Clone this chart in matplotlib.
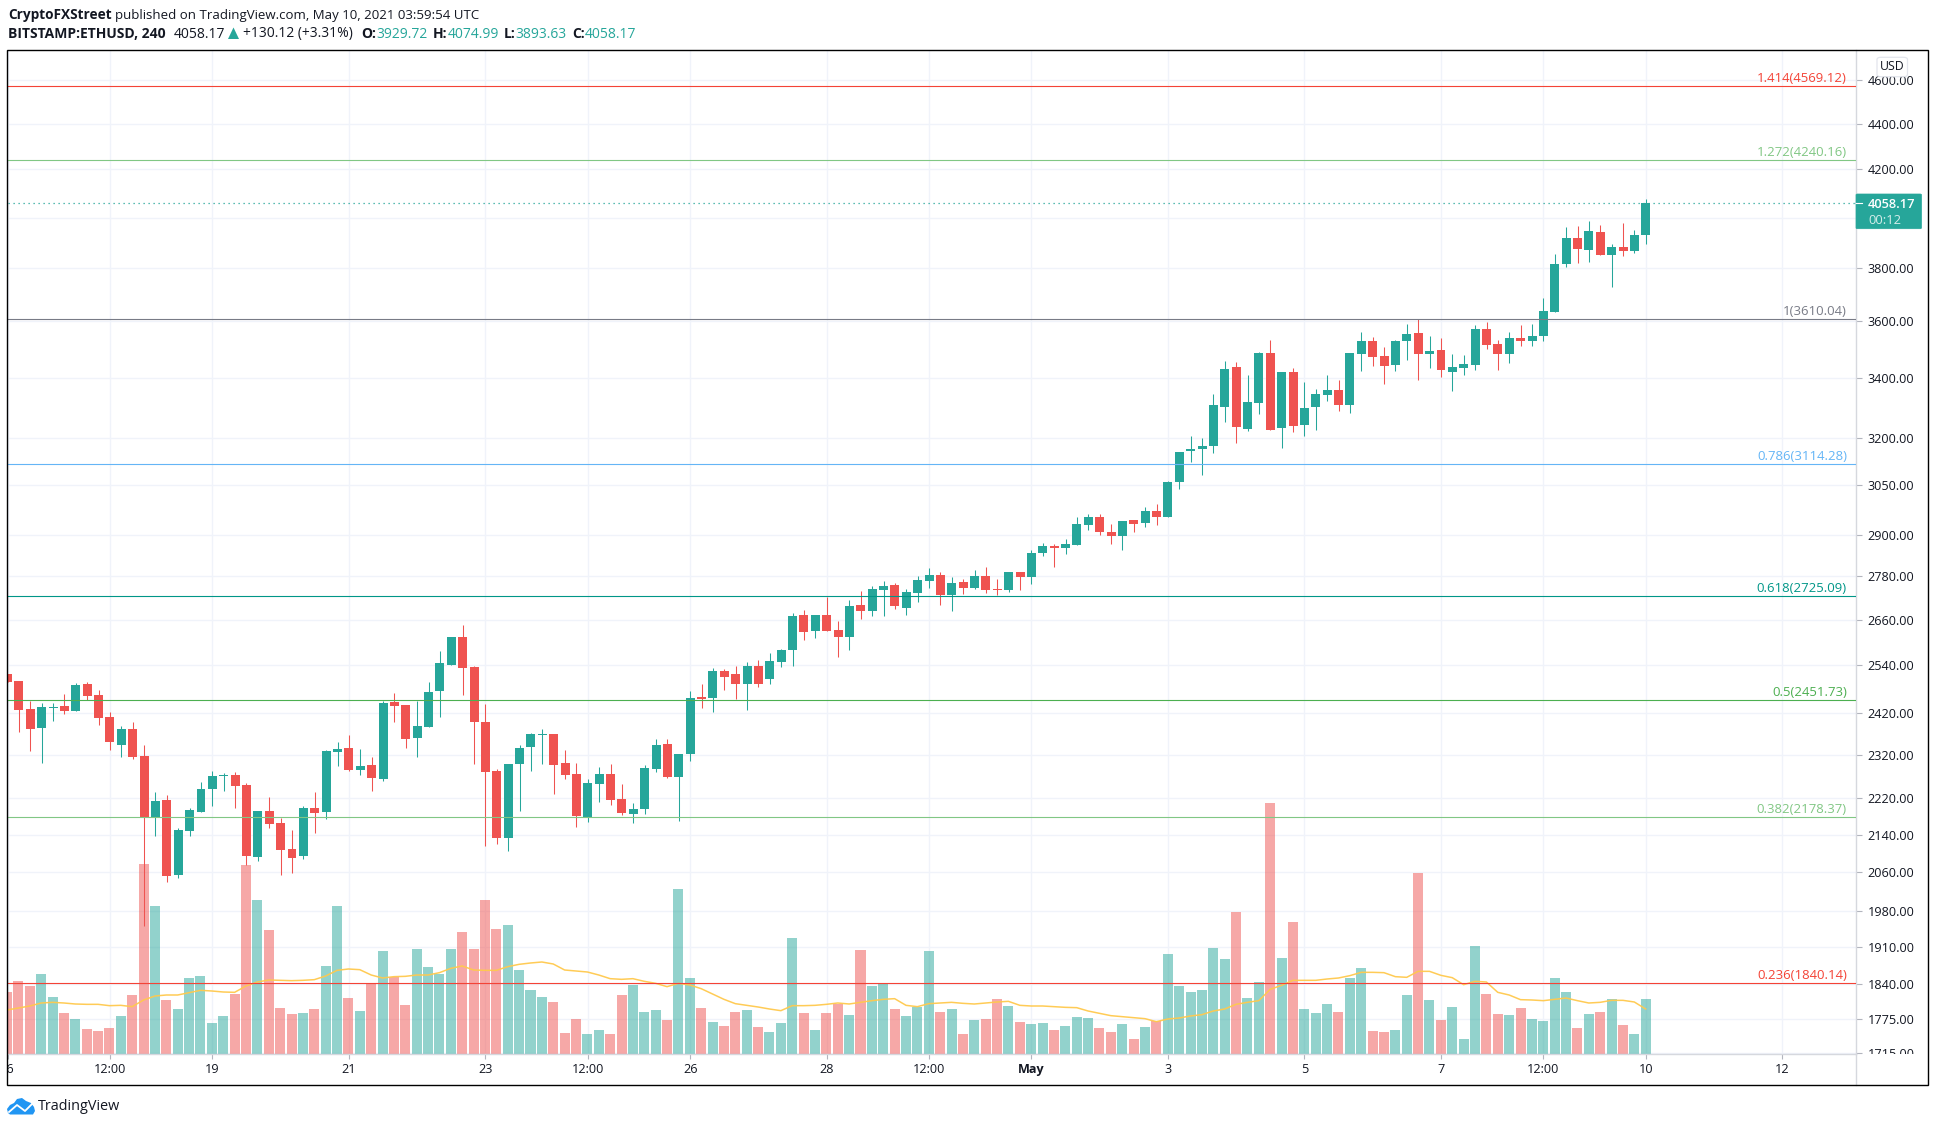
import matplotlib
matplotlib.use("Agg")
import matplotlib.pyplot as plt
from matplotlib.patches import Rectangle, Polygon, Circle, FancyBboxPatch
from matplotlib.lines import Line2D
from matplotlib.transforms import Bbox

plt.rcParams['font.family'] = ['Open Sans', 'DejaVu Sans']

# ---------- data (4h bars, index 0 = 16 Apr 00:00) ----------
opens = [2517,2499.5,2429.5,2383.1,2432,2436.9,2424.6,2491.8,2464.2,2409.9,
 2342.4,2380.7,2316.4,2177,2215.4,2053.3,2147,2188.7,2240.3,2270,
 2272.2,2249.3,2091,2190.9,2164.4,2108,2093,2197.5,2188.7,2326,
 2335.3,2283.8,2295.4,2263.1,2446.8,2439.3,2359,2385.6,2474.2,2540.3,
 2613.4,2535.1,2397.6,2281.4,2131.7,2297.7,2337.7,2366.3,2368.7,2300,
 2274.5,2177.7,2251.6,2274.5,2217.7,2184.2,2195.3,2286.1,2344.8,2267.6,
 2321.1,2459,2456.5,2524.7,2517,2491.6,2537.5,2504.3,2547.9,2579,
 2672.2,2629.2,2672.2,2631.9,2613.2,2699.4,2683,2740.8,2754.8,2691.2,
 2732.5,2766,2783,2727,2763.2,2746.4,2780,2743.6,2740.8,2791.3,
 2777,2845.5,2865.8,2860,2868.7,2927.5,2951.4,2906.8,2895,2942.4,
 2933.5,2969.4,2951.4,3058,3156.9,3163.2,3171.8,3299.7,3436.2,3226.9,
 3313.1,3485.4,3230.2,3418.9,3240,3299.7,3340,3357,3306.4,3481.9,
 3528,3474.9,3443.3,3528,3556.6,3481.9,3496,3418.9,3432.7,3443.3,
 3571.2,3517.4,3481.9,3538.8,3528,3546,3633.3,3814.5,3916.4,3869,
 3940.3,3849.4,3880.8,3865,3929.72]
highs = [2517,2499.5,2449.2,2444.3,2444.3,2466.7,2494.4,2497,2476.7,2422,
 2388,2397.6,2342.4,2233.5,2226.6,2153.5,2197.5,2256.3,2281.4,2276.8,
 2279.1,2254,2190.9,2222,2175.5,2149.1,2201.9,2233.5,2330.6,2349.6,
 2366.3,2333,2314,2449.2,2469,2439.3,2449.2,2497,2576.6,2613.4,
 2645.4,2537.7,2441.8,2286.1,2297.7,2342.4,2371,2380.7,2368.7,2330.6,
 2300,2263.1,2290.7,2297.7,2251.6,2208.7,2295.4,2356.7,2356.7,2321.1,
 2474.2,2494,2532.4,2529.8,2537.5,2547.9,2553,2571.2,2581.6,2677.6,
 2685.8,2672.2,2721.4,2656,2713.2,2738.1,2752,2766,2760.4,2743.6,
 2780,2802.6,2791.3,2777,2771.5,2797,2805.5,2771.5,2791.3,2791.3,
 2854.2,2874.5,2871.6,2886.2,2951.4,2960.4,2960.4,2930.5,2939.4,2942.4,
 2981.4,2990.5,3061,3152.4,3204,3197.6,3343.6,3457.2,3454,3408.5,
 3488.9,3531.6,3418.9,3432.7,3384.3,3360.4,3408.5,3391.2,3485.4,3560.4,
 3542.4,3506.7,3531.6,3589.4,3607.6,3546,3538.8,3481.9,3478.4,3585.6,
 3596.7,3531.6,3560.4,3585.6,3589.4,3685.3,3853.3,3960.4,3964.4,3984.5,
 3969.1,3892.7,3977.9,3948.3,4074.99]
lows = [2498,2373.5,2328.3,2300,2400,2417,2424.6,2451.7,2390.3,2330.6,
 2314,2309.3,1949.6,2136,2038.7,2047,2136,2188.7,2201.9,2235.7,
 2197.5,2074,2082.6,2153.5,2053.3,2057.4,2086.8,2142.7,2173.2,2293,
 2281.4,2272.2,2235.7,2258.5,2397.6,2335.3,2314,2385.6,2409.9,2540.3,
 2464.2,2297.7,2114.5,2118.9,2103.9,2190.9,2281.4,2297.7,2228.9,2263.1,
 2155.7,2166.6,2211,2204.2,2182,2164.4,2184.2,2279.1,2265.3,2168.7,
 2304.7,2431.8,2422,2476.5,2454,2426.8,2484,2494,2535,2537.5,
 2605.3,2610.5,2629.2,2560.8,2579,2661.4,2669.5,2669.5,2688.5,2672.2,
 2707.6,2746.4,2699.4,2683,2729.7,2743.6,2732.5,2727,2735.2,2740.8,
 2757.6,2836.8,2805.5,2842.7,2868.7,2912.7,2898,2871.6,2854.2,2906.8,
 2921.6,2927.5,2951.4,3036.3,3120.7,3080,3149.5,3250,3181.5,3220.4,
 3276.4,3223.6,3165.4,3217.1,3204,3223.6,3320,3286.3,3279.6,3422.3,
 3439.8,3377.5,3422.3,3460.7,3391.2,3432.7,3401.5,3353.6,3408.5,3425.8,
 3499.5,3425.8,3450,3510.2,3510.2,3528,3633.3,3802.9,3818.4,3822.3,
 3849.4,3726.6,3845.6,3857.3,3893.63]
closes = [2498,2427,2380.7,2434.4,2434.4,2424.6,2489.3,2461.7,2407.3,2349.6,
 2380.7,2314,2177,2213.2,2051,2149.1,2193.1,2240.3,2270,2272.2,
 2247,2093,2190.9,2162.2,2106,2089,2197.5,2186.4,2328.3,2333,
 2283.8,2293,2265.4,2444.3,2436.9,2356.7,2388,2471.7,2545.4,2613.4,
 2532.6,2397.6,2279.1,2131.7,2297.7,2335.3,2368.7,2368.7,2295.4,2272.2,
 2180,2254,2274.5,2215.4,2186.4,2195.3,2288.4,2342.4,2267.6,2321.1,
 2456.7,2454,2524.7,2509.4,2494,2537.5,2494,2550.4,2579,2669.5,
 2626.6,2672.2,2629.2,2613.2,2696.7,2683,2743.6,2752,2696.7,2735.2,
 2768.7,2783,2727,2760.4,2746.4,2780,2740.8,2740.8,2791.3,2777,
 2845.5,2865.8,2860,2871.6,2930.5,2951.4,2906.8,2895,2939.4,2930.5,
 2969.4,2951.4,3058,3152.4,3163.2,3171.8,3306.4,3429.3,3233.4,3316.5,
 3485.4,3223.6,3418.9,3236.8,3296.3,3343.5,3357,3306.4,3485.4,3528,
 3471.4,3439.8,3528,3553,3481.9,3492.5,3425.8,3436.2,3446.6,3571.2,
 3513.8,3481.9,3538.8,3528,3546,3637,3814.5,3916.4,3873,3944.3,
 3849.4,3880.8,3865,3928.4,4058.17]
volumes = [186,219,204,240,171,123,105,75,69,78,
 114,177,570,444,162,135,228,234,93,114,
 180,567,462,372,138,120,123,135,264,444,
 168,129,213,309,231,147,315,261,240,315,
 366,315,462,375,387,252,192,171,156,63,
 105,60,72,60,177,207,126,132,102,495,
 228,138,96,84,126,132,81,66,93,348,
 123,72,123,150,117,312,204,210,135,114,
 141,309,126,135,60,102,105,165,144,96,
 90,93,72,84,111,108,78,66,90,45,
 81,99,300,204,186,192,318,285,426,168,
 216,753,288,396,135,123,150,126,228,258,
 69,66,72,177,543,162,102,141,45,324,
 180,120,117,138,105,99,228,186,78,120,
 126,165,87,60,165]
volume_ma = [132,138,144,153,155,153,150,149,149,145,
 146,142,162,174,177,177,184,191,189,186,
 185,204,216,222,221,220,221,223,234,251,
 255,253,237,228,232,233,237,237,244,257,
 264,252,251,251,262,269,273,276,270,252,
 249,246,237,226,224,226,218,212,202,212,
 207,196,180,164,151,146,141,135,130,145,
 145,146,149,153,150,155,160,164,166,146,
 142,151,153,155,152,150,153,156,158,146,
 144,144,142,140,139,129,122,115,112,109,
 106,97,105,108,114,118,129,135,149,155,
 160,194,206,221,221,221,225,228,235,245,
 245,244,232,230,248,248,236,229,208,218,
 216,185,177,163,162,160,164,168,160,153,
 155,161,161,156,135]

fib_ratios = ['1.414', '1.272', '1', '0.786', '0.618', '0.5', '0.382', '0.236']
fib_prices = [4569.12, 4240.16, 3610.04, 3114.28, 2725.09, 2451.73, 2178.37, 1840.14]
fib_colors = ['#f44336', '#81c784', '#787b86', '#64b5f6', '#009688', '#4caf50', '#81c784', '#f44336']

price_ticks = [4600, 4400, 4200, 4000, 3800, 3600, 3400, 3200, 3050, 2900, 2780, 2660,
               2540, 2420, 2320, 2220, 2140, 2060, 1980, 1910, 1840, 1775, 1715]
time_tick_pos = [0, 9, 18, 30, 42, 51, 60, 72, 81, 90, 102, 114, 126, 135, 144, 156]
time_tick_lab = ['16', '12:00', '19', '21', '23', '12:00', '26', '28', '12:00', 'May',
                 '3', '5', '7', '12:00', '10', '12']

GREEN, RED = '#26a69a', '#ef5350'
TXT, GRID = '#131722', '#f0f3fa'
W, H = 1936, 1127
L, R, T, B = 7.6, 1856.0, 50.0, 1054.0

fig = plt.figure(figsize=(W / 100, H / 100), dpi=100, facecolor='white')
rect = [L / W, 1 - B / H, (R - L) / W, (B - T) / H]

def fx(x): return x / W
def fy(y): return 1 - y / H

xlim = (0.05, 162.48)
ylim = (1713.1, 4740.4)

# background grid
bg = fig.add_axes(rect, zorder=0)
bg.set_yscale('log'); bg.set_xlim(xlim); bg.set_ylim(ylim)
bg.set_yticks(price_ticks); bg.set_yticks([], minor=True); bg.set_xticks(time_tick_pos)
bg.tick_params(left=False, bottom=False, labelleft=False, labelbottom=False)
bg.grid(True, color=GRID, lw=1.0)
for s in bg.spines.values():
    s.set_visible(False)

idx = list(range(len(closes)))
colors = [GREEN if c >= o else RED for o, c in zip(opens, closes)]

# volume pane
av = fig.add_axes(rect, zorder=1)
av.patch.set_visible(False)
av.set_xlim(xlim); av.set_ylim(0, 3012); av.axis('off')
av.bar(idx, volumes, width=0.88, color=colors, alpha=0.5, linewidth=0)
av.plot(idx, volume_ma, color='#ffc94d', lw=1.1, alpha=0.95)

# price pane
ax = fig.add_axes(rect, zorder=2)
ax.patch.set_visible(False)
ax.set_yscale('log'); ax.set_xlim(xlim); ax.set_ylim(ylim)
ax.vlines(idx, lows, highs, colors=colors, lw=0.75, zorder=3)
ax.bar(idx, [abs(c - o) for o, c in zip(opens, closes)],
       bottom=[min(o, c) for o, c in zip(opens, closes)],
       width=0.79, color=colors, linewidth=0, zorder=4)

for ratio, price, col in zip(fib_ratios, fib_prices, fib_colors):
    ax.axhline(price, color=col, lw=0.8, zorder=5)
    ax.annotate(f'{ratio}({price:.2f})', xy=(0.9951, price), xycoords=ax.get_yaxis_transform(),
                xytext=(0, 0.8), textcoords='offset points', ha='right', va='bottom',
                color=col, fontsize=9.45, zorder=6)
ax.axhline(closes[-1], color=GREEN, lw=0.9, ls=(0, (1, 3)), zorder=5)

ax.set_yticks(price_ticks)
ax.set_yticks([], minor=True)
ax.set_yticklabels(['' if p == 4000 else f'{p:.2f}' for p in price_ticks])
ax.yaxis.tick_right()
ax.tick_params(axis='y', length=4, width=0.8, color='#b2b5be', pad=4.2, labelsize=9.1, labelcolor=TXT)
ax.set_xticks(time_tick_pos)
ax.set_xticklabels(time_tick_lab)
ax.tick_params(axis='x', length=3.6, width=0.8, color='#b2b5be', pad=2.6, labelsize=9.1, labelcolor=TXT)
for lab, txt in zip(ax.get_xticklabels(), time_tick_lab):
    if txt == 'May':
        lab.set_fontweight('bold')
    lab.set_clip_box(Bbox([[L, 0], [W, H]]))
    lab.set_clip_on(True)
for lab, p in zip(ax.get_yticklabels(), price_ticks):
    lab.set_clip_box(Bbox([[0, H - B], [W, H]]))
    lab.set_clip_on(True)
for name, s in ax.spines.items():
    s.set_visible(name in ('right', 'bottom'))
    s.set_color('#d6d8de'); s.set_linewidth(1.0)

# figure-level furniture
fig.add_artist(Line2D([fx(R), fx(R)], [fy(B), fy(1085)], color='#d6d8de', lw=1.0, zorder=3))
fig.add_artist(Rectangle((fx(7), fy(1085)), fx(1928 - 7), (1085 - 49.5) / H, fill=False,
                         ec='black', lw=1.0, transform=fig.transFigure, zorder=12))

# last price box
fig.add_artist(FancyBboxPatch((fx(1856), fy(228.7)), fx(65.5), 34.7 / H, boxstyle='round,pad=0,rounding_size=0.0008',
                              fc=GREEN, ec=GREEN, lw=0.5, transform=fig.transFigure, zorder=10))
fig.add_artist(Line2D([fx(1856), fx(1862)], [fy(203.3), fy(203.3)], color='white', lw=0.8, zorder=11))
fig.text(fx(1868), fy(204), f'{closes[-1]:.2f}', color='white', fontsize=9.3, fontweight='semibold', va='center', zorder=11)
fig.text(fx(1868), fy(220), '00:12', color='#d4edea', fontsize=9.3, va='center', zorder=11)

# USD box
fig.add_artist(FancyBboxPatch((fx(1877), fy(76.7)), fx(30.5), 19.4 / H, boxstyle='round,pad=0,rounding_size=0.002',
                              fc='white', ec='#e0e3eb', lw=0.9, alpha=0.92, transform=fig.transFigure, zorder=10))
fig.text(fx(1892.3), fy(67), 'USD', color=TXT, fontsize=8.8, ha='center', va='center', zorder=11)

# header
def htext(x, y, s, color=TXT, weight='normal', size=10.0):
    fig.text(fx(x), fy(y), s, color=color, fontsize=size, fontweight=weight, va='center', zorder=11)

htext(8, 15.5, 'CryptoFXStreet', weight='bold', size=9.8)
htext(115, 15.5, 'published on TradingView.com, May 10, 2021 03:59:54 UTC', size=9.56)
htext(8, 34, 'BITSTAMP:ETHUSD, 240', weight='bold')
htext(174, 34, '4058.17')
fig.add_artist(Polygon([[fx(228), fy(39)], [fx(239), fy(39)], [fx(233.5), fy(27.5)]], closed=True,
                       fc=GREEN, ec='none', transform=fig.transFigure))
htext(243, 34, '+130.12 (+3.31%)')
for xl, xv, lab, val in [(361, 376, 'O:', '3929.72'), (433, 448, 'H:', '4074.99'),
                         (503.5, 515.5, 'L:', '3893.63'), (572, 585, 'C:', '4058.17')]:
    htext(xl, 34, lab, weight='bold')
    htext(xv, 34, val, color=GREEN)

# TradingView logo
BLUE = '#2196f3'
def P(x, y): return (fx(x), fy(y))
fig.add_artist(Polygon([P(8, 1113), P(7, 1109), P(10, 1105), P(14, 1103), P(17, 1099), P(22, 1098),
                        P(26, 1101), P(31, 1103), P(34, 1107), P(35, 1111), P(33, 1114.5), P(10, 1114.5)],
                       closed=True, fc=BLUE, ec='none', transform=fig.transFigure))
fig.add_artist(Line2D([fx(9), fx(17), fx(25), fx(32)], [fy(1112), fy(1105), fy(1111), fy(1104)],
                      color='white', lw=1.3))
fig.text(fx(38), fy(1106.5), 'TradingView', color=TXT, fontsize=10.4, va='center', zorder=11)

fig.savefig('out.png', dpi=100, facecolor='white')
